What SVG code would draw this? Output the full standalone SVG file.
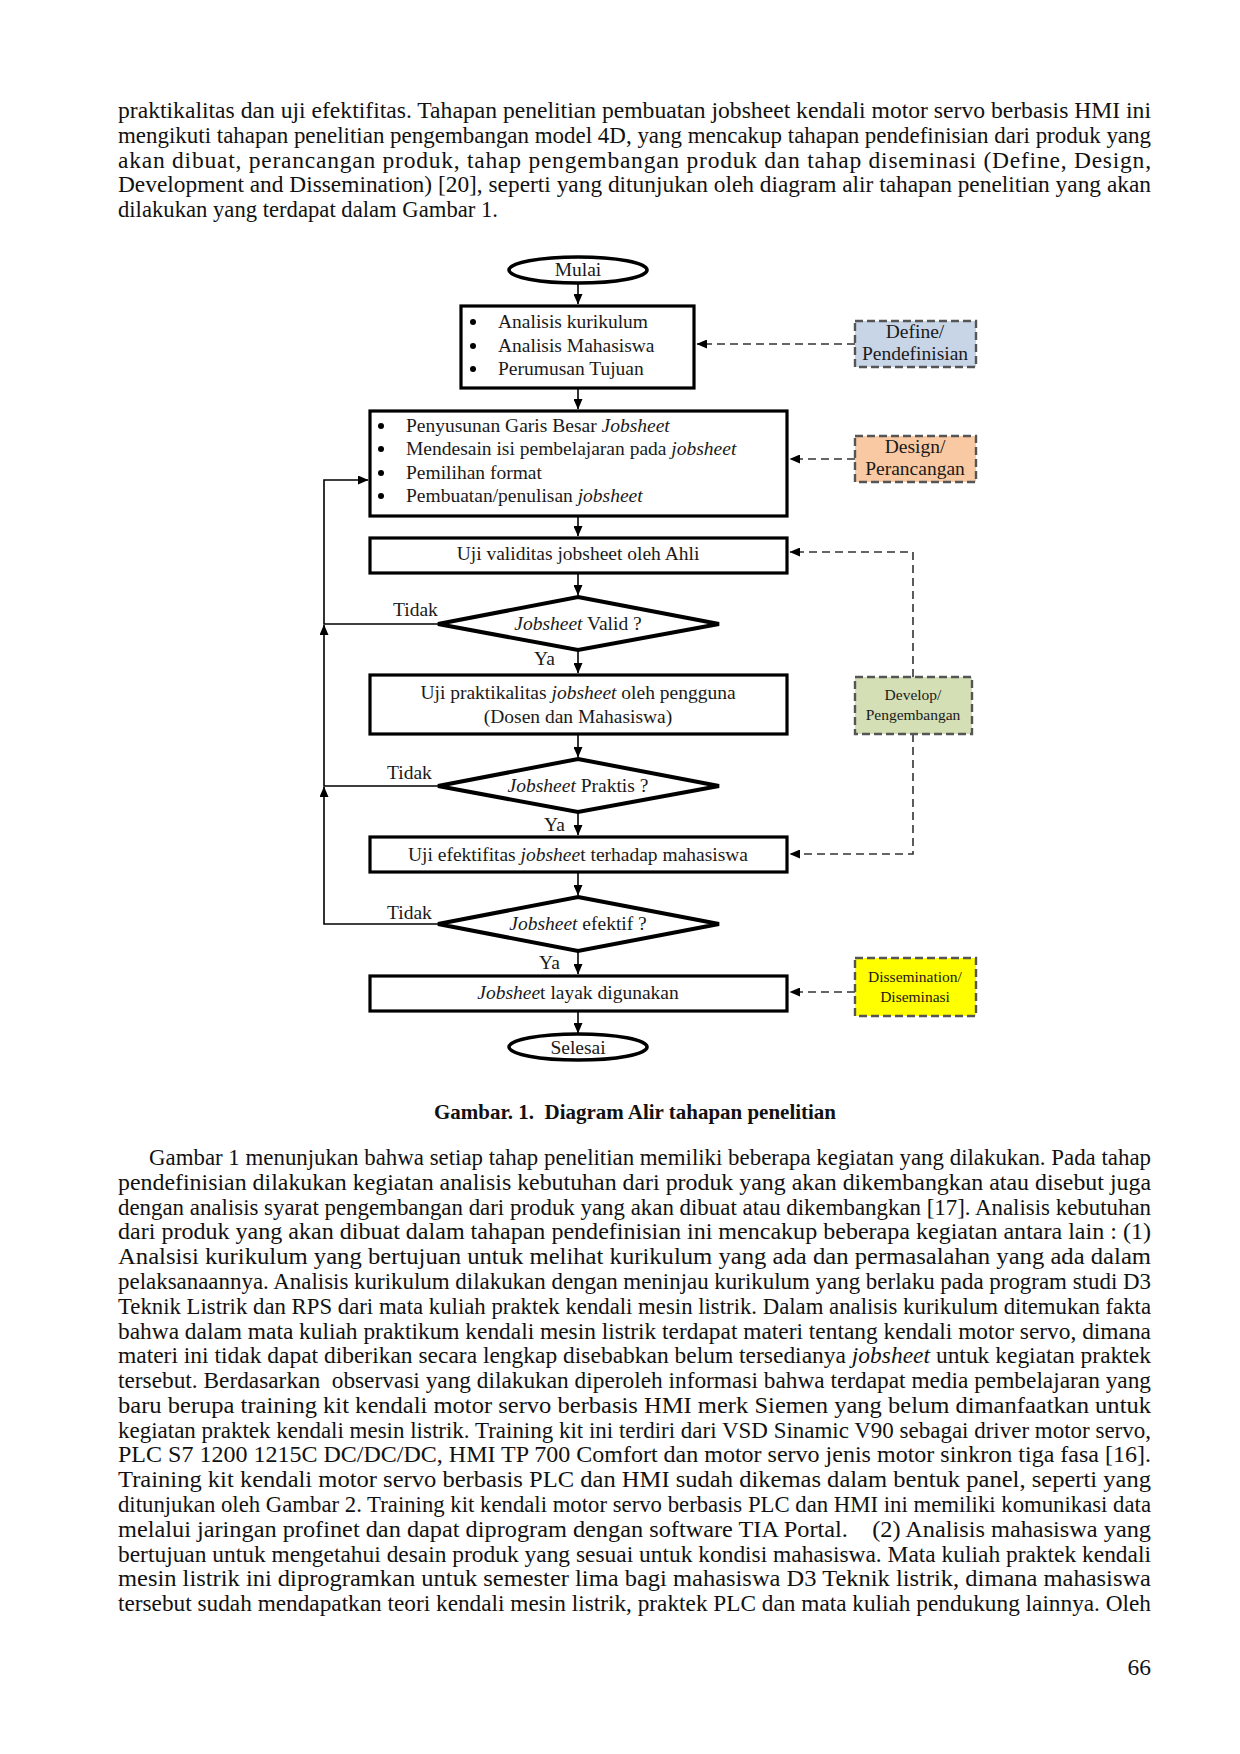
<svg xmlns="http://www.w3.org/2000/svg" width="1240" height="1754" viewBox="0 0 1240 1754">
<style>
.body{font-family:"Liberation Serif","Times New Roman",serif;font-size:23.5px;fill:#111}
.dg{font-family:"Liberation Serif","Times New Roman",serif;font-size:19.5px;fill:#1a1a1a}
.sm{font-family:"Liberation Serif","Times New Roman",serif;font-size:15.5px;fill:#1a1a1a}
.it{font-style:italic}
.box{fill:#fff;stroke:#000;stroke-width:3.2}
.dia{fill:#fff;stroke:#000;stroke-width:4}
.term{fill:#fff;stroke:#000;stroke-width:3.6}
.side{stroke:#555;stroke-width:2.4;stroke-dasharray:8 4}
.flow{fill:none;stroke:#000;stroke-width:1.6}
.dash{fill:none;stroke:#333;stroke-width:1.6;stroke-dasharray:8 5}
.cap{font-family:"Liberation Serif","Times New Roman",serif;font-size:21px;font-weight:bold;fill:#111}
</style>
<defs>
<marker id="ah" markerWidth="11" markerHeight="9" refX="10" refY="4.5" orient="auto" markerUnits="userSpaceOnUse">
<path d="M0,0 L10.5,4.5 L0,9 z" fill="#000"/>
</marker>
</defs>

<g id="top-paragraph">
<text class="body" x="118" y="118" textLength="1033" lengthAdjust="spacingAndGlyphs">praktikalitas dan uji efektifitas. Tahapan penelitian pembuatan jobsheet kendali motor servo berbasis HMI ini</text>
<text class="body" x="118" y="143" textLength="1033" lengthAdjust="spacingAndGlyphs">mengikuti tahapan penelitian pengembangan model 4D, yang mencakup tahapan pendefinisian dari produk yang</text>
<text class="body" x="118" y="168" textLength="1033" lengthAdjust="spacing">akan dibuat, perancangan produk, tahap pengembangan produk dan tahap diseminasi (Define, Design,</text>
<text class="body" x="118" y="192" textLength="1033" lengthAdjust="spacingAndGlyphs">Development and Dissemination) [20], seperti yang ditunjukan oleh diagram alir tahapan penelitian yang akan</text>
<text class="body" x="118" y="217" textLength="380" lengthAdjust="spacingAndGlyphs">dilakukan yang terdapat dalam Gambar 1.</text>
</g>

<g id="connectors">
<line class="flow" x1="578" y1="283" x2="578" y2="304" marker-end="url(#ah)"/>
<line class="flow" x1="578" y1="388" x2="578" y2="409" marker-end="url(#ah)"/>
<line class="flow" x1="578" y1="516" x2="578" y2="536" marker-end="url(#ah)"/>
<line class="flow" x1="578" y1="573" x2="578" y2="595" marker-end="url(#ah)"/>
<line class="flow" x1="578" y1="650" x2="578" y2="673" marker-end="url(#ah)"/>
<line class="flow" x1="578" y1="734" x2="578" y2="757" marker-end="url(#ah)"/>
<line class="flow" x1="578" y1="812" x2="578" y2="835" marker-end="url(#ah)"/>
<line class="flow" x1="578" y1="872" x2="578" y2="895" marker-end="url(#ah)"/>
<line class="flow" x1="578" y1="951" x2="578" y2="974" marker-end="url(#ah)"/>
<line class="flow" x1="578" y1="1011" x2="578" y2="1033" marker-end="url(#ah)"/>
<polyline class="flow" points="438,924 324,924 324,787" marker-end="url(#ah)"/>
<polyline class="flow" points="438,786 324,786 324,625" marker-end="url(#ah)"/>
<polyline class="flow" points="438,624 324,624 324,480 368,480" marker-end="url(#ah)"/>
<line class="dash" x1="855" y1="344" x2="697" y2="344" marker-end="url(#ah)"/>
<line class="dash" x1="855" y1="459" x2="790" y2="459" marker-end="url(#ah)"/>
<polyline class="dash" points="913,677 913,552 790,552" marker-end="url(#ah)"/>
<polyline class="dash" points="913,734 913,854 790,854" marker-end="url(#ah)"/>
<line class="dash" x1="855" y1="992" x2="790" y2="992" marker-end="url(#ah)"/>
</g>

<g id="mulai">
<ellipse class="term" cx="578" cy="270" rx="69" ry="13"/>
<text class="dg" x="578" y="276" text-anchor="middle">Mulai</text>
</g>

<g id="define-activities">
<rect class="box" x="461" y="306" width="233" height="82"/>
<circle cx="473" cy="322" r="3"/><circle cx="473" cy="346" r="3"/><circle cx="473" cy="369" r="3"/>
<text class="dg" x="498" y="328">Analisis kurikulum</text>
<text class="dg" x="498" y="352">Analisis Mahasiswa</text>
<text class="dg" x="498" y="375">Perumusan Tujuan</text>
</g>

<g id="design-activities">
<rect class="box" x="370" y="411" width="417" height="105"/>
<circle cx="381" cy="426" r="3"/><circle cx="381" cy="449" r="3"/><circle cx="381" cy="473" r="3"/><circle cx="381" cy="496" r="3"/>
<text class="dg" x="406" y="432">Penyusunan Garis Besar <tspan class="it">Jobsheet</tspan></text>
<text class="dg" x="406" y="455">Mendesain isi pembelajaran pada <tspan class="it">jobsheet</tspan></text>
<text class="dg" x="406" y="479">Pemilihan format</text>
<text class="dg" x="406" y="502">Pembuatan/penulisan <tspan class="it">jobsheet</tspan></text>
</g>

<g id="uji-validitas">
<rect class="box" x="370" y="538" width="417" height="35"/>
<text class="dg" x="578" y="560" text-anchor="middle">Uji validitas jobsheet oleh Ahli</text>
</g>

<g id="dec-valid">
<polygon class="dia" points="578,597 719,624 578,650 438,624"/>
<text class="dg" x="578" y="630" text-anchor="middle"><tspan class="it">Jobsheet</tspan> Valid ?</text>
<text class="dg" x="393" y="616">Tidak</text>
<text class="dg" x="534" y="665">Ya</text>
</g>

<g id="uji-praktikalitas">
<rect class="box" x="370" y="675" width="417" height="59"/>
<text class="dg" x="578" y="699" text-anchor="middle">Uji praktikalitas <tspan class="it">jobsheet</tspan> oleh pengguna</text>
<text class="dg" x="578" y="723" text-anchor="middle">(Dosen dan Mahasiswa)</text>
</g>

<g id="dec-praktis">
<polygon class="dia" points="578,759 719,786 578,812 438,786"/>
<text class="dg" x="578" y="792" text-anchor="middle"><tspan class="it">Jobsheet</tspan> Praktis ?</text>
<text class="dg" x="387" y="779">Tidak</text>
<text class="dg" x="544" y="831">Ya</text>
</g>

<g id="uji-efektifitas">
<rect class="box" x="370" y="837" width="417" height="35"/>
<text class="dg" x="578" y="861" text-anchor="middle">Uji efektifitas <tspan class="it">jobshee</tspan>t terhadap mahasiswa</text>
</g>

<g id="dec-efektif">
<polygon class="dia" points="578,897 719,924 578,951 438,924"/>
<text class="dg" x="578" y="930" text-anchor="middle"><tspan class="it">Jobsheet</tspan> efektif ?</text>
<text class="dg" x="387" y="919">Tidak</text>
<text class="dg" x="539" y="969">Ya</text>
</g>

<g id="layak">
<rect class="box" x="370" y="976" width="417" height="35"/>
<text class="dg" x="578" y="999" text-anchor="middle"><tspan class="it">Jobshee</tspan>t layak digunakan</text>
</g>

<g id="selesai">
<ellipse class="term" cx="578" cy="1047" rx="69" ry="13"/>
<text class="dg" x="578" y="1054" text-anchor="middle">Selesai</text>
</g>

<g id="define">
<rect class="side" x="855" y="321" width="121" height="46" fill="#c8d5e7"/>
<text class="dg" x="915" y="338" text-anchor="middle">Define/</text>
<text class="dg" x="915" y="360" text-anchor="middle">Pendefinisian</text>
</g>

<g id="design">
<rect class="side" x="855" y="436" width="121" height="46" fill="#f8c9a3"/>
<text class="dg" x="915" y="453" text-anchor="middle">Design/</text>
<text class="dg" x="915" y="475" text-anchor="middle">Perancangan</text>
</g>

<g id="develop">
<rect class="side" x="855" y="677" width="117" height="57" fill="#d4dfb5"/>
<text class="sm" x="913" y="700" text-anchor="middle">Develop/</text>
<text class="sm" x="913" y="720" text-anchor="middle">Pengembangan</text>
</g>

<g id="dissemination">
<rect class="side" x="855" y="958" width="121" height="58" fill="#ffff00"/>
<text class="sm" x="915" y="982" text-anchor="middle">Dissemination/</text>
<text class="sm" x="915" y="1002" text-anchor="middle">Diseminasi</text>
</g>

<g id="caption">
<text class="cap" x="434" y="1119" textLength="402" lengthAdjust="spacingAndGlyphs" xml:space="preserve">Gambar. 1.  Diagram Alir tahapan penelitian</text>
</g>

<g id="body-paragraph">
<text class="body" x="149" y="1165" textLength="1002" lengthAdjust="spacingAndGlyphs">Gambar 1 menunjukan bahwa setiap tahap penelitian memiliki beberapa kegiatan yang dilakukan. Pada tahap</text>
<text class="body" x="118" y="1190" textLength="1033" lengthAdjust="spacingAndGlyphs">pendefinisian dilakukan kegiatan analisis kebutuhan dari produk yang akan dikembangkan atau disebut juga</text>
<text class="body" x="118" y="1215" textLength="1033" lengthAdjust="spacingAndGlyphs">dengan analisis syarat pengembangan dari produk yang akan dibuat atau dikembangkan [17]. Analisis kebutuhan</text>
<text class="body" x="118" y="1239" textLength="1033" lengthAdjust="spacingAndGlyphs">dari produk yang akan dibuat dalam tahapan pendefinisian ini mencakup beberapa kegiatan antara lain : (1)</text>
<text class="body" x="118" y="1264" textLength="1033" lengthAdjust="spacingAndGlyphs">Analsisi kurikulum yang bertujuan untuk melihat kurikulum yang ada dan permasalahan yang ada dalam</text>
<text class="body" x="118" y="1289" textLength="1033" lengthAdjust="spacingAndGlyphs">pelaksanaannya. Analisis kurikulum dilakukan dengan meninjau kurikulum yang berlaku pada program studi D3</text>
<text class="body" x="118" y="1314" textLength="1033" lengthAdjust="spacingAndGlyphs">Teknik Listrik dan RPS dari mata kuliah praktek kendali mesin listrik. Dalam analisis kurikulum ditemukan fakta</text>
<text class="body" x="118" y="1339" textLength="1033" lengthAdjust="spacingAndGlyphs">bahwa dalam mata kuliah praktikum kendali mesin listrik terdapat materi tentang kendali motor servo, dimana</text>
<text class="body" x="118" y="1363" textLength="1033" lengthAdjust="spacingAndGlyphs">materi ini tidak dapat diberikan secara lengkap disebabkan belum tersedianya <tspan class="it">jobsheet</tspan> untuk kegiatan praktek</text>
<text class="body" x="118" y="1388" textLength="1033" lengthAdjust="spacingAndGlyphs" xml:space="preserve">tersebut. Berdasarkan  observasi yang dilakukan diperoleh informasi bahwa terdapat media pembelajaran yang</text>
<text class="body" x="118" y="1413" textLength="1033" lengthAdjust="spacingAndGlyphs">baru berupa training kit kendali motor servo berbasis HMI merk Siemen yang belum dimanfaatkan untuk</text>
<text class="body" x="118" y="1438" textLength="1033" lengthAdjust="spacingAndGlyphs">kegiatan praktek kendali mesin listrik. Training kit ini terdiri dari VSD Sinamic V90 sebagai driver motor servo,</text>
<text class="body" x="118" y="1462" textLength="1033" lengthAdjust="spacingAndGlyphs">PLC S7 1200 1215C DC/DC/DC, HMI TP 700 Comfort dan motor servo jenis motor sinkron tiga fasa [16].</text>
<text class="body" x="118" y="1487" textLength="1033" lengthAdjust="spacingAndGlyphs">Training kit kendali motor servo berbasis PLC dan HMI sudah dikemas dalam bentuk panel, seperti yang</text>
<text class="body" x="118" y="1512" textLength="1033" lengthAdjust="spacingAndGlyphs">ditunjukan oleh Gambar 2. Training kit kendali motor servo berbasis PLC dan HMI ini memiliki komunikasi data</text>
<text class="body" x="118" y="1537" textLength="1033" lengthAdjust="spacingAndGlyphs" xml:space="preserve">melalui jaringan profinet dan dapat diprogram dengan software TIA Portal.    (2) Analisis mahasiswa yang</text>
<text class="body" x="118" y="1562" textLength="1033" lengthAdjust="spacingAndGlyphs">bertujuan untuk mengetahui desain produk yang sesuai untuk kondisi mahasiswa. Mata kuliah praktek kendali</text>
<text class="body" x="118" y="1586" textLength="1033" lengthAdjust="spacingAndGlyphs">mesin listrik ini diprogramkan untuk semester lima bagi mahasiswa D3 Teknik listrik, dimana mahasiswa</text>
<text class="body" x="118" y="1611" textLength="1033" lengthAdjust="spacingAndGlyphs">tersebut sudah mendapatkan teori kendali mesin listrik, praktek PLC dan mata kuliah pendukung lainnya. Oleh</text>
</g>

<g id="page-number">
<text class="body" x="1151" y="1675" text-anchor="end">66</text>
</g>
</svg>
